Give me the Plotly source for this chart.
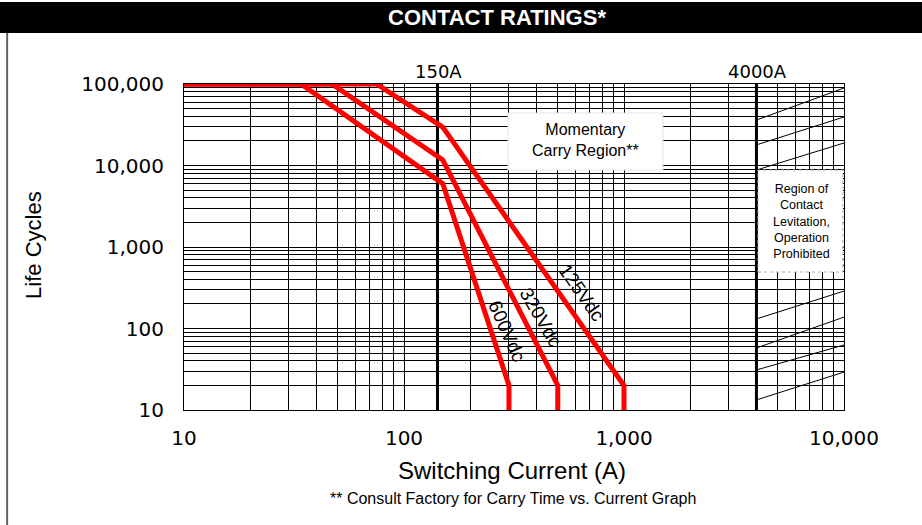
import math
import plotly.graph_objects as go

# ---- data ----
current_125 = [10, 75, 150, 1000, 1000]
cycles_125 = [100000, 100000, 29600, 20, 10]
current_320 = [10, 47, 150, 500, 500]
cycles_320 = [100000, 100000, 11700, 20, 10]
current_600 = [10, 34, 150, 300, 300]
cycles_600 = [100000, 100000, 6000, 20, 10]

x_ticks = [10, 100, 1000, 10000]
x_ticktext = ["10", "100", "1,000", "10,000"]
y_ticks = [10, 100, 1000, 10000, 100000]
y_ticktext = ["10", "100", "1,000", "10,000", "100,000"]

limit_lines = [142, 4000]          # thick reference lines (150A, 4000A)
limit_labels = ["150A", "4000A"]

# hatch lines in the prohibited region: (y at 4000 A, y at 10000 A)
hatch_left = [36100, 17900, 8800, 131, 57.7, 31, 13.3]
hatch_right = [89300, 39400, 18900, 288, 138, 62.8, 29.2]

minor_x = [m * d for d in (10, 100, 1000) for m in range(2, 10)]
minor_y = [m * d for d in (10, 100, 1000, 10000) for m in range(2, 10)]

RED = "#ff0000"
fig = go.Figure()
for xs, ys in [(current_125, cycles_125), (current_320, cycles_320), (current_600, cycles_600)]:
    fig.add_trace(go.Scatter(x=xs, y=ys, mode="lines",
                             line=dict(color=RED, width=5),
                             cliponaxis=False, showlegend=False, hoverinfo="skip"))

GRID = "#000000"
fig.update_xaxes(type="log", range=[1, 4], tickmode="array", tickvals=x_ticks,
                 ticktext=x_ticktext, showgrid=True, gridcolor=GRID, gridwidth=1,
                 showline=True, linecolor="black", linewidth=1, mirror=True,
                 ticks="", ticklabelstandoff=10,
                 tickfont=dict(family="DejaVu Sans", size=20, color="black"),
                 minor=dict(tickmode="array", tickvals=minor_x, showgrid=True,
                            gridcolor=GRID, gridwidth=1, ticks=""),
                 zeroline=False)
fig.update_yaxes(type="log", range=[1, 5], tickmode="array", tickvals=y_ticks,
                 ticktext=y_ticktext, showgrid=True, gridcolor=GRID, gridwidth=1,
                 showline=True, linecolor="black", linewidth=1, mirror=True,
                 ticks="", ticklabelstandoff=15,
                 tickfont=dict(family="DejaVu Sans", size=20, color="black"),
                 minor=dict(tickmode="array", tickvals=minor_y, showgrid=True,
                            gridcolor=GRID, gridwidth=1, ticks=""),
                 zeroline=False)

shapes = []
# title bar and left border
shapes.append(dict(type="rect", xref="paper", yref="paper", x0=-0.2788, x1=1.12,
                   y0=1.1564, y1=1.2515, fillcolor="black", line=dict(width=0), layer="above"))
shapes.append(dict(type="line", xref="paper", yref="paper", x0=-0.268, x1=-0.268,
                   y0=-0.4, y1=1.1564, line=dict(color="#666666", width=2)))
# thick limit lines
for xv in limit_lines:
    shapes.append(dict(type="line", xref="x", yref="y", x0=xv, x1=xv, y0=10, y1=100000,
                       line=dict(color="black", width=3), layer="between"))
# hatch lines
for yl, yr in zip(hatch_left, hatch_right):
    shapes.append(dict(type="line", xref="x", yref="y", x0=4000, x1=10000, y0=yl, y1=yr,
                       line=dict(color="black", width=1), layer="above"))
# momentary carry box
shapes.append(dict(type="rect", xref="x", yref="y", x0=297, x1=1503, y0=8810, y1=44000,
                   fillcolor="white", line=dict(color="#e6e6e6", width=1), layer="above"))
# region of levitation box
shapes.append(dict(type="rect", xref="x", yref="y", x0=4064, x1=9886, y0=493, y1=8810,
                   fillcolor="white", line=dict(color="#aaaaaa", width=1, dash="dot"), layer="above"))
fig.update_layout(shapes=shapes)

C = dict(xanchor="center", yanchor="middle", showarrow=False)
ann = []
ann.append(dict(xref="paper", yref="paper", x=0.474, y=1.2055, text="<b>CONTACT RATINGS*</b>",
                font=dict(family="Liberation Sans Narrow, Liberation Sans", size=22, color="white"), **C))
for xv, lab in zip(limit_lines, limit_labels):
    ann.append(dict(xref="x", yref="paper", x=math.log10(xv) + 0.003, y=1.037, text=lab,
                    font=dict(family="DejaVu Sans", size=18, color="black"), **C))
ann.append(dict(xref="x", yref="y", x=math.log10(665), y=math.log10(20500),
                text="Momentary<br>Carry Region**",
                font=dict(family="Liberation Sans", size=16, color="black"), **C))
ann.append(dict(xref="x", yref="y", x=math.log10(6380), y=math.log10(2030),
                text="Region of<br>Contact<br>Levitation,<br>Operation<br>Prohibited",
                font=dict(family="Liberation Sans", size=12.5, color="black"), **C))
for txt, xv, yv, ang in [("125Vdc", 640, 273, 55), ("320Vdc", 420, 138, 60), ("600Vdc", 295, 93, 66)]:
    ann.append(dict(xref="x", yref="y", x=math.log10(xv), y=math.log10(yv), text=txt,
                    textangle=ang,
                    font=dict(family="Liberation Sans", size=19, color="black"), **C))
ann.append(dict(xref="paper", yref="paper", x=-0.229, y=0.506, text="Life Cycles", textangle=-90,
                font=dict(family="Liberation Sans", size=22, color="black"), **C))
ann.append(dict(xref="paper", yref="paper", x=0.497, y=-0.187, text="Switching Current (A)",
                font=dict(family="Liberation Sans", size=24, color="black"), **C))
ann.append(dict(xref="paper", yref="paper", x=0.498, y=-0.273,
                text="** Consult Factory for Carry Time vs. Current Graph",
                font=dict(family="Liberation Sans", size=16, color="black"), **C))
fig.update_layout(annotations=ann)

fig.update_layout(width=922, height=525, margin=dict(l=184, r=78, t=84, b=115, autoexpand=False),
                  paper_bgcolor="white", plot_bgcolor="white", showlegend=False)

fig.write_html("out.html", config={"displayModeBar": False},
               post_script="document.body.style.margin='0';")
